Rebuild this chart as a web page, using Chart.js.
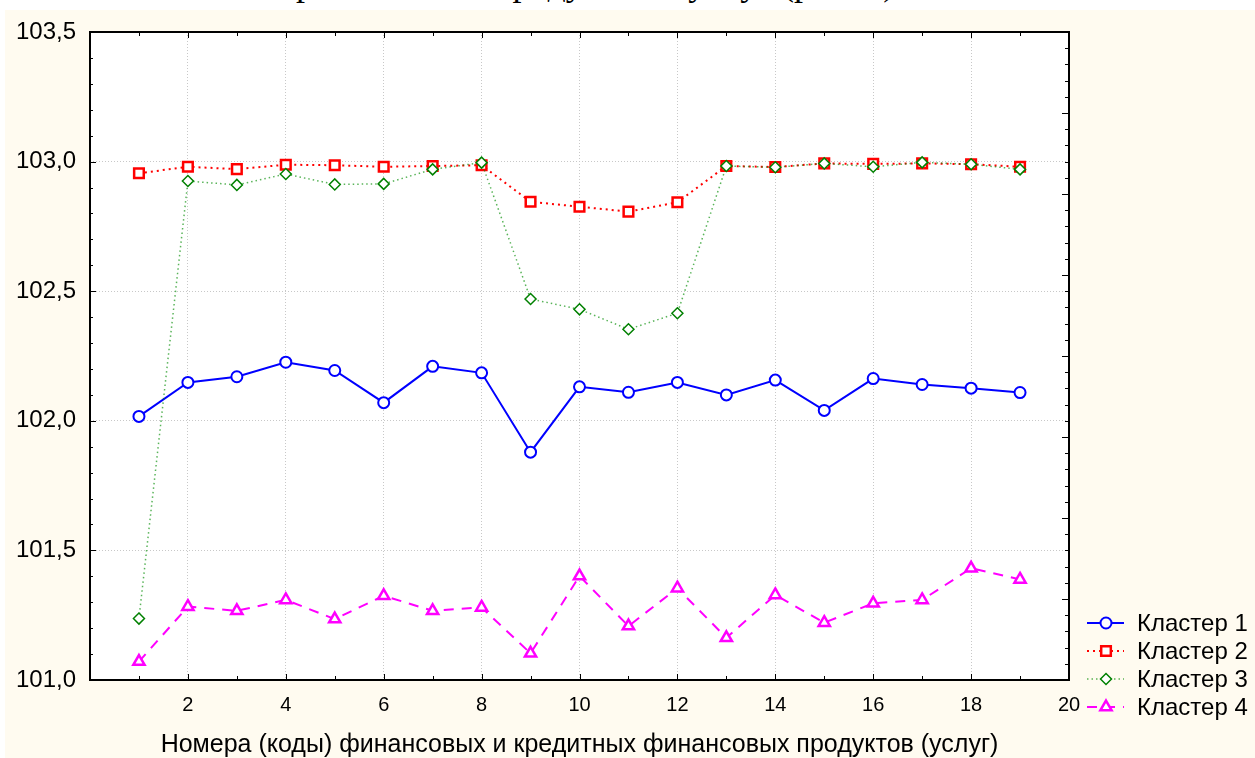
<!DOCTYPE html>
<html><head><meta charset="utf-8">
<script src="https://cdn.jsdelivr.net/npm/chart.js@4.4.1/dist/chart.umd.min.js"></script>
<style>
html,body{margin:0;padding:0;background:#fff;width:1255px;height:758px;overflow:hidden;}
#cap{position:absolute;left:0;top:0;width:1255px;height:10px;overflow:hidden;background:#fff;}
#cap div{position:absolute;left:270px;top:-35px;font-family:"Liberation Serif","Times New Roman",serif;font-size:36px;line-height:36px;white-space:nowrap;color:#000;}
#wrap{position:absolute;left:5px;top:10px;width:1250px;height:748px;background:#FFFBF0;}
canvas{display:block;}
</style></head><body>
<div id="cap"><div>Премиальных продуктов и услуг (рис. 3)</div></div>
<div id="wrap"><canvas id="c" width="1250" height="748" style="width:1250px;height:748px"></canvas></div>
<script>
const xValues  = [1,2,3,4,5,6,7,8,9,10,11,12,13,14,15,16,17,18,19];
const cluster1 = [102.017,102.148,102.170,102.226,102.194,102.070,102.210,102.185,101.879,102.131,102.110,102.148,102.100,102.157,102.040,102.163,102.140,102.126,102.109];
const cluster2 = [102.955,102.980,102.971,102.988,102.986,102.980,102.983,102.986,102.845,102.826,102.807,102.843,102.983,102.979,102.993,102.991,102.993,102.990,102.980];
const cluster3 = [101.237,102.925,102.910,102.952,102.912,102.914,102.970,102.996,102.470,102.430,102.353,102.415,102.983,102.978,102.993,102.980,102.997,102.990,102.970];
const cluster4 = [101.071,101.283,101.267,101.309,101.235,101.325,101.267,101.280,101.103,101.401,101.208,101.354,101.163,101.328,101.221,101.296,101.309,101.431,101.388];
const seriesNames = ['Кластер 1','Кластер 2','Кластер 3','Кластер 4'];
const xTitle = 'Номера (коды) финансовых и кредитных финансовых продуктов (услуг)';
const xMin = 0, xMax = 20, xStep = 2;
const yMin = 101.0, yMax = 103.5, yStep = 0.5;

const FONT = '"Liberation Sans", Arial, sans-serif';
const pts = arr => arr.map((v,i)=>({x:xValues[i], y:v}));

const datasets = [
  {label:seriesNames[0], data:pts(cluster1), borderColor:'#0000FF', borderWidth:2, borderDash:[],
   pointStyle:'circle', pointRadius:5.5, pointBorderWidth:2, pointBackgroundColor:'#fff', pointBorderColor:'#0000FF', order:1},
  {label:seriesNames[1], data:pts(cluster2), borderColor:'#FF0000', borderWidth:2, borderDash:[2,4],
   pointStyle:'rect', pointRadius:6.8, pointBorderWidth:2.5, pointBackgroundColor:'#fff', pointBorderColor:'#FF0000', order:2},
  {label:seriesNames[2], data:pts(cluster3), borderColor:'rgba(0,140,0,0.65)', borderWidth:1.5, borderDash:[1.5,3],
   pointStyle:'rectRot', pointRadius:5.5, pointBorderWidth:1.5, pointBackgroundColor:'#fff', pointBorderColor:'#008000', order:0},
  {label:seriesNames[3], data:pts(cluster4), borderColor:'#FF00FF', borderWidth:2, borderDash:[10,8],
   pointStyle:'triangle', pointRadius:6.5, pointBorderWidth:2.5, pointBackgroundColor:'#fff', pointBorderColor:'#FF00FF', order:3}
];

const framePlugin = {
  id:'frame',
  beforeDraw(chart){
    const {ctx, chartArea:a} = chart;
    ctx.save(); ctx.fillStyle='#fff';
    ctx.fillRect(a.left, a.top, a.right-a.left, a.bottom-a.top);
    ctx.restore();
  },
  afterDraw(chart){
    const {ctx, chartArea:a, scales} = chart;
    const xs = scales.x, ys = scales.y, y2 = scales.y2;
    ctx.save();
    ctx.strokeStyle='#000'; ctx.lineWidth=1;
    const seg=(x1,y1,x2,y2_)=>{ctx.beginPath();ctx.moveTo(x1,y1);ctx.lineTo(x2,y2_);ctx.stroke();};
    for (let v=xMin; v<=xMax; v++){
      const px = Math.round(xs.getPixelForValue(v))+0.5;
      const len = v%2===0 ? 6 : 4;
      seg(px,a.bottom,px,a.bottom-len);
      seg(px,a.top,px,a.top+len);
    }
    for (let i=0;i<=25;i++){
      const py = Math.round(ys.getPixelForValue(yMin+i*0.1))+0.5;
      const len = i%5===0 ? 6 : 3;
      seg(a.left,py,a.left+len,py);
    }
    for (let i=0;i<=40;i++){
      const py = Math.round(y2.getPixelForValue(i))+0.5;
      const len = i%5===0 ? 7 : 4;
      seg(a.right,py,a.right-len,py);
    }
    ctx.lineWidth=2;
    ctx.strokeRect(a.left, a.top, a.right-a.left, a.bottom-a.top);
    // legend
    const base = a.bottom - 57;
    chart.data.datasets.forEach((ds,i)=>{
      const y = base + i*28;
      const x0 = a.right + 18, x1 = a.right + 55, xm = a.right + 37;
      ctx.save();
      ctx.strokeStyle = ds.borderColor; ctx.lineWidth = ds.borderWidth;
      ctx.setLineDash(ds.borderDash);
      ctx.beginPath(); ctx.moveTo(x0,y); ctx.lineTo(x1,y); ctx.stroke();
      ctx.setLineDash([]);
      ctx.fillStyle = ds.pointBackgroundColor; ctx.strokeStyle = ds.pointBorderColor; ctx.lineWidth = ds.pointBorderWidth;
      Chart.helpers.drawPoint(ctx, {pointStyle:ds.pointStyle, radius:ds.pointRadius, rotation:0, borderWidth:ds.pointBorderWidth}, xm, y);
      ctx.restore();
      ctx.fillStyle='#000'; ctx.font = '24px '+FONT; ctx.textBaseline='middle'; ctx.textAlign='left';
      ctx.fillText(ds.label, a.right + 68, y+1);
    });
    ctx.restore();
  }
};

new Chart(document.getElementById('c'), {
  type:'line',
  data:{datasets},
  options:{
    responsive:false, animation:false, devicePixelRatio:1,
    layout:{padding:{left:0, right:186, top:22, bottom:0}},
    plugins:{legend:{display:false}, tooltip:{enabled:false}, title:{display:false}},
    elements:{line:{tension:0}},
    scales:{
      x:{type:'linear', min:xMin, max:xMax,
         ticks:{stepSize:xStep, padding:13, color:'#000', font:{family:FONT, size:20},
                callback:v=> v===0 ? '' : String(v)},
         grid:{color:'#c8c8c8', lineWidth:1, drawTicks:false},
         border:{display:false, dash:[1,2]},
         title:{display:true, text:xTitle, color:'#000', font:{family:FONT, size:25, lineHeight:1.0}, padding:{top:0,bottom:0}},
         afterFit(s){ s.height = 78; s.paddingLeft = 0; s.paddingRight = 0; }
      },
      y:{type:'linear', min:yMin, max:yMax, position:'left',
         ticks:{stepSize:yStep, padding:14, color:'#000', font:{family:FONT, size:24},
                callback:v=> v.toFixed(1).replace('.',',')},
         grid:{color:'#c8c8c8', lineWidth:1, drawTicks:false},
         border:{display:false, dash:[1,2]},
         afterFit(s){ s.width = 85; s.paddingTop = 0; s.paddingBottom = 0; }
      },
      y2:{type:'linear', min:0, max:40, position:'right', display:false, reverse:true}
    }
  },
  plugins:[framePlugin]
});
</script>
</body></html>
